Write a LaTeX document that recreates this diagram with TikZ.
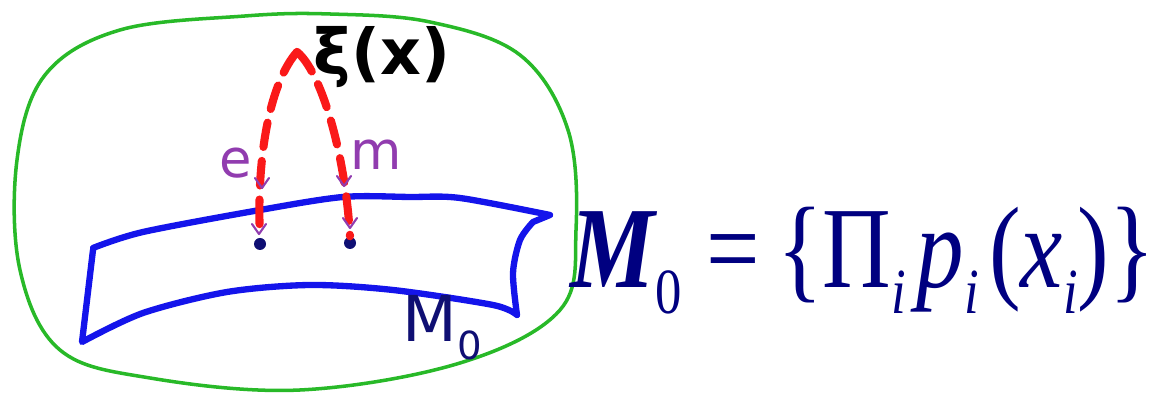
\documentclass[tikz,border=0pt]{standalone}
\usepackage{graphicx}
\usepackage{fontspec}
\setmainfont{Liberation Serif}
\newfontfamily\handfont{DejaVu Sans}
\definecolor{sketchgreen}{RGB}{40,185,40}
\definecolor{sketchblue}{RGB}{20,20,235}
\definecolor{sketchred}{RGB}{250,25,25}
\definecolor{sketchpurple}{RGB}{145,60,175}
\definecolor{inkblue}{RGB}{15,15,115}
\definecolor{formulablue}{RGB}{0,0,128}
\newcommand{\lowsub}[1]{\raisebox{-6pt}{\fontsize{15}{15}\selectfont #1}}

\begin{document}
\begin{tikzpicture}[x=0.01cm,y=-0.01cm,line cap=round,line join=round,
  ray/.style={sketchred,line width=2.3pt,dash pattern=on 7pt off 4pt},
  tick/.style={sketchpurple,line width=0.6pt},
  hand/.style={font=\handfont\fontsize{18}{18}\selectfont},
  dot/.style={circle,fill=inkblue,inner sep=0pt,minimum size=0.12cm}]
\useasboundingbox (0,0) rectangle (1167,398);
\draw[sketchgreen,line width=1pt] plot[smooth cycle,tension=0.6] coordinates {(245,16) (120,30) (45,75) (17,160) (20,270) (60,350) (150,378) (300,390) (460,363) (560,310) (576,230) (568,130) (520,55) (430,22) (330,14)};
\draw[sketchblue,line width=1.8pt] plot[smooth,tension=0.5] coordinates {(93,248) (143,232) (260,210) (343,197) (410,197) (460,198) (550,215)}
  -- (533,222) -- plot[smooth,tension=0.5] coordinates {(533,222) (520,240) (513,273) (517,315)}
  -- plot[smooth,tension=0.5] coordinates {(517,315) (493,305) (393,290) (310,285) (227,292) (143,313) (82,342)}
  -- (93,250);
\coordinate (src) at (297,52);
\node[dot] (dotE) at (260,244) {};
\node[dot] (dotM) at (350,243) {};
\draw[ray] (src) .. controls (272,80) and (256,150) .. (dotE.north);
\draw[ray] (src) .. controls (320,70) and (345,150) .. (dotM.north);
\foreach \x/\y in {262/188,344/186,259/234,350/228}
  \draw[tick] (\x-7,\y-10) -- (\x,\y) -- (\x+7,\y-10);
\node[hand,sketchpurple,font=\handfont\fontsize{15}{15}\selectfont] (eLbl) at (236,163) {e};
\node[hand,sketchpurple,font=\handfont\fontsize{15}{15}\selectfont] (mLbl) at (376,155) {m};
\node[hand,font=\handfont\bfseries\fontsize{18}{18}\selectfont] (xiLbl) at (382,57) {ξ(x)};
\node[hand,inkblue] (bandLbl) at (442,328) {M\raisebox{-5pt}{\fontsize{11}{11}\selectfont 0}};
\node[formulablue,anchor=base west,inner sep=0pt,font=\fontsize{27}{27}\selectfont] (eqn) at (570,288)
  {\scalebox{1}[1.22]{{\bfseries\itshape M}\lowsub{0}\kern7pt=\kern5pt\{Π\lowsub{\itshape i}\kern3pt\textit{p}\lowsub{\itshape i}\kern3pt(\textit{x}\lowsub{\itshape i})\}}};
\end{tikzpicture}
\end{document}
